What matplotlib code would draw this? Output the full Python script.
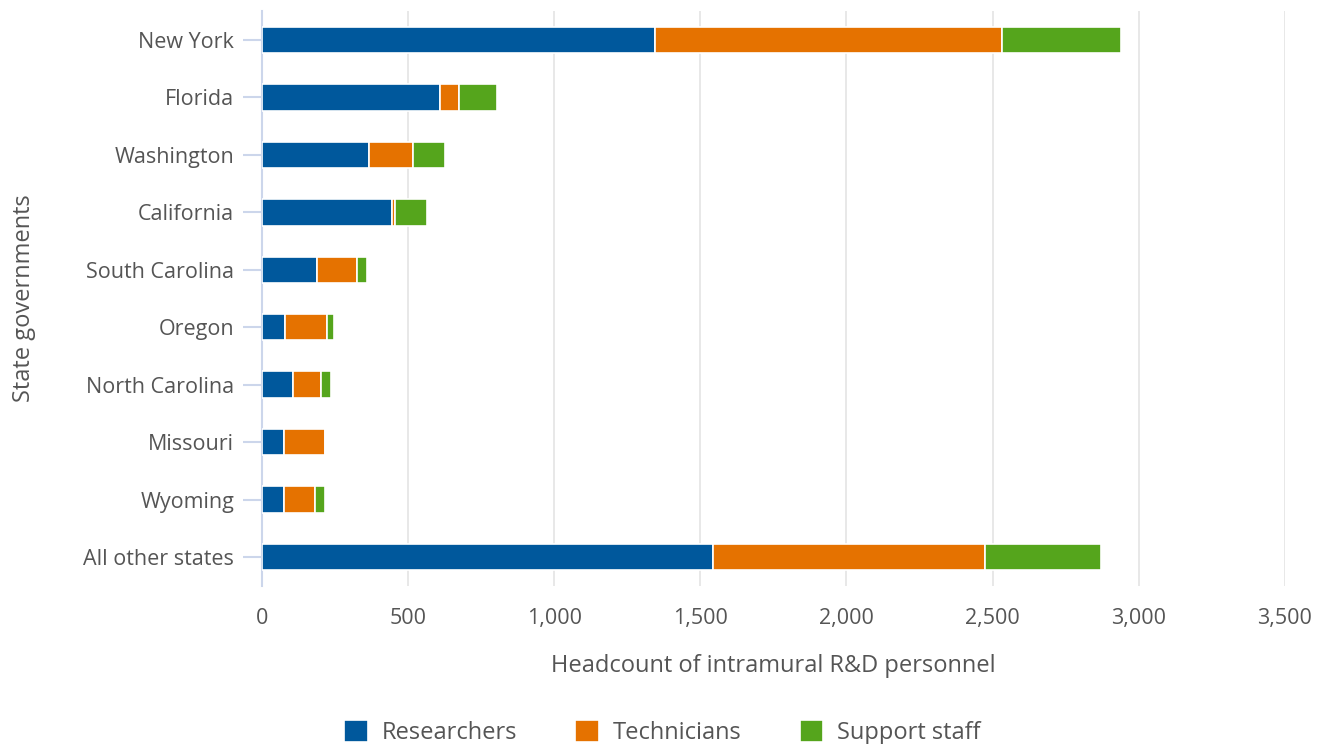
import matplotlib.pyplot as plt
import numpy as np

plt.rcParams['font.family'] = ['Open Sans', 'DejaVu Sans']

# Data
states = ["New York", "Florida", "Washington", "California", "South Carolina",
          "Oregon", "North Carolina", "Missouri", "Wyoming", "All other states"]
researchers = [1345, 609, 366, 445, 188, 79, 106, 75, 75, 1543]
technicians = [1187, 65, 151, 10, 137, 143, 96, 141, 106, 930]
support = [407, 130, 109, 109, 34, 24, 34, 0, 35, 397]

series = [("Researchers", researchers, "#00589c"),
          ("Technicians", technicians, "#e57200"),
          ("Support staff", support, "#55a51c")]

text_col = "#555555"

fig = plt.figure(figsize=(13.25, 7.44), dpi=100)
ax = fig.add_axes([0.1977, 0.2128, 0.772, 0.772])

y = np.arange(len(states))
left = np.zeros(len(states))
for name, vals, col in series:
    vals = np.array(vals, dtype=float)
    ax.barh(y, vals, left=left, height=0.46, color=col, edgecolor="white",
            linewidth=1.2, label=name, zorder=3)
    left += vals

ax.set_ylim(len(states) - 0.5, -0.5)
ax.set_xlim(0, 3500)
ax.set_yticks(y)
ax.set_yticklabels(states)
ax.set_xticks(np.arange(0, 3501, 500))
ax.set_xticklabels([f"{v:,}" for v in range(0, 3501, 500)])

ax.grid(axis="x", color="#e6e6e6", linewidth=1.3, zorder=0)
for s in ["top", "right", "bottom"]:
    ax.spines[s].set_visible(False)
ax.spines["left"].set_color("#ccd6eb")
ax.spines["left"].set_linewidth(1.5)

ax.tick_params(axis="y", length=14, width=1.5, color="#ccd6eb", pad=6,
               labelsize=15.5, labelcolor=text_col)
ax.tick_params(axis="x", length=0, pad=16, labelsize=15.5, labelcolor=text_col)

ax.set_xlabel("Headcount of intramural R&D personnel", fontsize=17,
              color=text_col, labelpad=18)
ax.set_ylabel("State governments", fontsize=17, color=text_col, labelpad=34)

leg = fig.legend(loc="lower center", bbox_to_anchor=(0.5, -0.03), ncol=3,
                 frameon=False, fontsize=17, handlelength=1.0, handleheight=1.0,
                 columnspacing=2.45, handletextpad=0.6)
for t in leg.get_texts():
    t.set_color(text_col)

fig.savefig("out.png", dpi=100)
